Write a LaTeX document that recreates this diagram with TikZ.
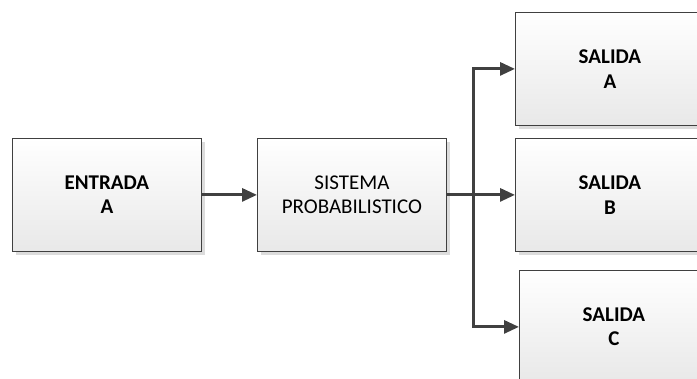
\documentclass[tikz,border=0pt]{standalone}
\usepackage{fontspec}
\setmainfont{Carlito}
\usetikzlibrary{arrows.meta,shadows}
\definecolor{edge}{HTML}{404040}
\definecolor{shade}{HTML}{DCDCDC}
\begin{document}
\begin{tikzpicture}[x=1pt,y=-1pt,
  block/.style={draw=edge, line width=0.8pt, top color=white, bottom color=black!9,
    minimum width=189pt, minimum height=113pt, inner sep=0pt, align=center,
    font=\fontsize{21}{24.5}\selectfont,
    general shadow={fill=shade, shadow xshift=4pt, shadow yshift=-4pt}},
  link/.style={draw=edge, line width=3pt, -{Triangle[length=15pt,width=13pt]}}]
  \useasboundingbox (0,0) rectangle (697,378);
  % input, system and output blocks
  \node[block, anchor=north west] (ent) at (12,138) {\bfseries ENTRADA\\\bfseries A};
  \node[block, anchor=north west] (sis) at (257,138) {SISTEMA\\PROBABILISTICO};
  \node[block, anchor=north west] (sa) at (515,12) {\bfseries SALIDA\\\bfseries A};
  \node[block, anchor=north west] (sb) at (515,138) {\bfseries SALIDA\\\bfseries B};
  \node[block, anchor=north west] (sc) at (519,270) {\bfseries SALIDA\\\bfseries C};
  % branch point of the output bus
  \coordinate (j) at (473,194);
  % connectors
  \draw[link] (ent.east) -- (sis.west);
  \draw[link] (sis.east) -- (sb.west);
  \draw[link] (j) |- (sa.west);
  \draw[link] (j) |- (sc.west);
\end{tikzpicture}
\end{document}
